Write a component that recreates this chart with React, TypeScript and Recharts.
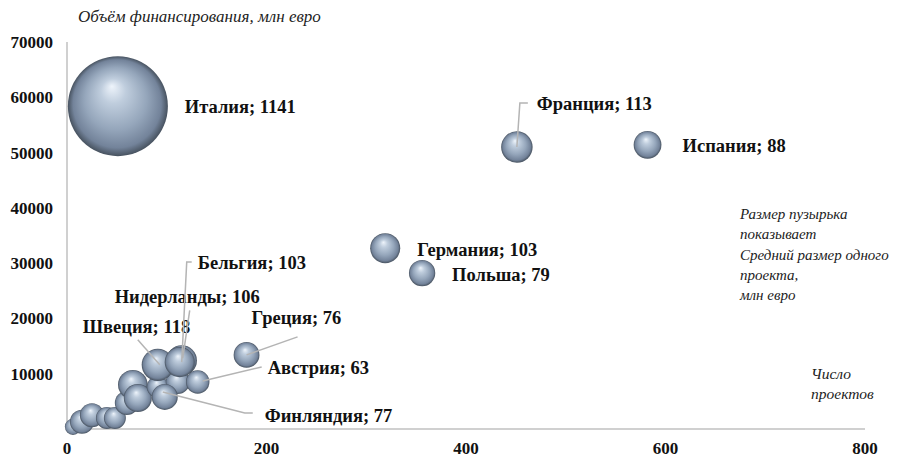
import { ScatterChart, Scatter, XAxis, YAxis, ZAxis } from 'recharts'

// number of projects, total funding (mln EUR), average project size (mln EUR)
const countries = ['', '', '', '', '', '', '', '', '', '', 'Финляндия', 'Швеция', 'Нидерланды', 'Бельгия', 'Австрия', 'Греция', 'Польша', 'Германия', 'Испания', 'Франция', 'Италия']
const projects = [6, 15, 25, 40, 48, 60, 66, 71, 91, 111, 98, 91, 115, 113, 131, 180, 356, 319, 582, 451, 51]
const funding = [400, 1300, 2500, 2000, 2000, 4700, 8000, 5600, 7600, 8500, 5800, 11600, 12400, 12100, 8500, 13400, 28200, 32700, 51400, 51000, 58400]
const avgSize = [30, 66, 66, 55, 55, 66, 100, 90, 55, 66, 77, 118, 106, 103, 63, 76, 79, 103, 88, 113, 1141]

const xTicks = [0, 200, 400, 600, 800]
const yTicks = [10000, 20000, 30000, 40000, 50000, 60000, 70000]

const data = countries.map((name, i) => ({ name, x: projects[i], y: funding[i], z: avgSize[i] }))

// label placement relative to bubble centre (px); line = leader polyline
const labelLayout: Record<string, { dx: number; dy: number; line?: [number, number][] }> = {
  'Италия': { dx: 67, dy: 7 },
  'Франция': { dx: 20, dy: -37, line: [[0, 0], [3, -44], [11, -44]] },
  'Испания': { dx: 35, dy: 7 },
  'Германия': { dx: 32, dy: 8 },
  'Польша': { dx: 30, dy: 8 },
  'Греция': { dx: 5, dy: -31, line: [[0, 0], [51, -18]] },
  'Бельгия': { dx: 18, dy: -93, line: [[2, 0], [7, -100], [12, -100]] },
  'Нидерланды': { dx: -67, dy: -57, line: [[1, -2], [8, -50]] },
  'Швеция': { dx: -75, dy: -32, line: [[2, 0], [-20, -25]] },
  'Австрия': { dx: 70, dy: -8, line: [[5, -1], [64, -15]] },
  'Финляндия': { dx: 100, dy: 25, line: [[-2, -5], [80, 16], [88, 16]] },
}

const serif = 'Liberation Serif, DejaVu Serif, Noto Serif, serif'
const maxR = 50

function Bubble(props: any) {
  const { cx, cy, width, size } = props
  const r = width ? width / 2 : Math.sqrt(size / Math.PI)
  return <circle cx={cx} cy={cy} r={r} fill="url(#sphere)" />
}

function BubbleLabel(props: any) {
  const { cx, cy, payload } = props
  const lay = labelLayout[payload.name]
  if (!lay) return <g />
  return (
    <g>
      {lay.line && (
        <polyline
          points={lay.line.map(([a, b]) => `${cx + a},${cy + b}`).join(' ')}
          fill="none" stroke="#b4b4b4" strokeWidth={1.5}
        />
      )}
      <text x={cx + lay.dx} y={cy + lay.dy} fontFamily={serif} fontWeight="bold" fontSize={18.5} fill="#111">
        {`${payload.name}; ${payload.z}`}
      </text>
    </g>
  )
}

const italic = { position: 'absolute' as const, fontFamily: serif, fontStyle: 'italic', color: '#222', whiteSpace: 'nowrap' as const }

export default function App() {
  return (
    <div style={{ position: 'absolute', left: 0, top: 0, width: 915, height: 458, background: '#fff' }}>
      <ScatterChart width={915} height={458} margin={{ top: 42, right: 50, bottom: 0, left: 0 }}>
        <defs>
          <radialGradient id="sphere" cx="50%" cy="50%" r="50%" fx="44%" fy="30%">
            <stop offset="0%" stopColor="#eef4fb" />
            <stop offset="25%" stopColor="#bfcddd" />
            <stop offset="62%" stopColor="#95a6bb" />
            <stop offset="88%" stopColor="#73839a" />
            <stop offset="100%" stopColor="#47525f" />
          </radialGradient>
        </defs>
        <XAxis
          type="number" dataKey="x" domain={[0, 800]} ticks={xTicks} height={29}
          tickLine={false} axisLine={{ stroke: '#d0d0d0', strokeWidth: 2 }} tickMargin={7}
          tick={{ fontFamily: serif, fontWeight: 'bold', fontSize: 17, fill: '#111' }}
        />
        <YAxis
          type="number" dataKey="y" domain={[0, 70000]} ticks={yTicks} width={67}
          tickLine={false} axisLine={{ stroke: '#d0d0d0', strokeWidth: 2 }} tickMargin={8}
          tick={{ fontFamily: serif, fontWeight: 'bold', fontSize: 17, fill: '#111' }}
        />
        <ZAxis type="number" dataKey="z" domain={[0, 1141]} range={[0, Math.PI * maxR * maxR]} />
        <Scatter data={data} shape={Bubble} isAnimationActive={false} />
        <Scatter data={data} shape={BubbleLabel} isAnimationActive={false} />
      </ScatterChart>
      <div style={{ ...italic, left: 78, top: 7, fontSize: 17 }}>Объём финансирования, млн евро</div>
      <div style={{ ...italic, left: 740, top: 204, fontSize: 15, lineHeight: '20.3px' }}>
        Размер пузырька<br />показывает<br />Средний размер одного<br />проекта,<br />млн евро
      </div>
      <div style={{ ...italic, left: 811, top: 364, fontSize: 15.5, lineHeight: '20px' }}>
        Число<br />проектов
      </div>
    </div>
  )
}
